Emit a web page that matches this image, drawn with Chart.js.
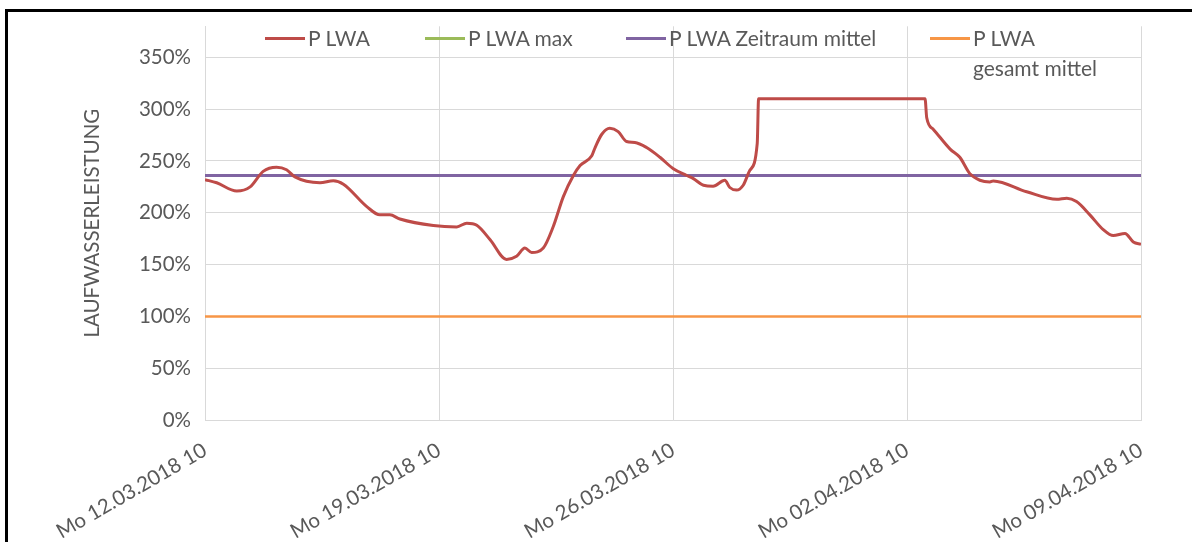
<!DOCTYPE html>
<html>
<head>
<meta charset="utf-8">
<script src="https://cdn.jsdelivr.net/npm/chart.js@4/dist/chart.umd.min.js"></script>
<style>
    html, body { margin: 0; padding: 0; background: #fff; }
    #wrap { position: relative; width: 1192px; height: 542px; overflow: hidden; }
    #frame { position: absolute; left: 5px; top: 9px; width: 1400px; height: 700px;
             border-left: 3px solid #000; border-top: 3px solid #000; }
    #chart { position: absolute; left: 0; top: 0; }
    .lg { position: absolute; font-family: Lato, sans-serif; font-size: 21px; color: #595959;
          white-space: pre-line; line-height: 30px; }
    .lg span { display: inline-block; width: 40px; height: 3px; vertical-align: middle;
               margin-right: 3px; position: relative; top: -2px; }
</style>
</head>
<body>
<div id="wrap">
    <div id="frame"></div>
    <canvas id="chart" width="1192" height="542"></canvas>
</div>
<script>
// Achse: Tage ab Mo 12.03.2018 10 Uhr
const tickLabels = ['Mo 12.03.2018 10', 'Mo 19.03.2018 10', 'Mo 26.03.2018 10', 'Mo 02.04.2018 10', 'Mo 09.04.2018 10'];
const tage = [0.00, 0.35, 0.95, 1.35, 1.74, 2.14, 2.44, 2.69, 3.44, 3.84, 4.14, 4.84, 5.23, 5.53, 5.83,
    6.83, 7.53, 7.83, 8.13, 8.53, 9.02, 9.32, 9.57, 9.77, 10.12, 10.41, 10.72, 11.02, 11.22, 11.57,
    11.67, 11.87, 12.11, 12.36, 12.61, 12.86, 13.21, 13.61, 14.01, 14.41, 14.61, 14.91, 15.20, 15.55,
    15.70, 15.90, 16.10, 16.30, 16.52, 16.56, 21.54, 21.59, 21.79, 22.29, 22.58, 22.88, 23.18, 23.48,
    23.58, 24.58, 25.48, 25.78, 26.07, 26.47, 26.87, 27.17, 27.52, 27.77, 28.00];
const pLwa = [232, 229, 221, 225, 240, 244, 241.5, 234.6, 229, 231, 227.6, 206, 198, 198, 194,
    187.7, 186.4, 190, 188, 174, 155, 158, 166, 161.7, 166, 186, 215.6, 236, 245.6, 255,
    263, 275.8, 281.5, 278.4, 268.8, 267.9, 263, 253.6, 242.5, 236, 233, 226.6, 225.7, 231.4,
    224.4, 221.9, 226.6, 241, 267, 310, 310, 291.7, 280.5, 261.5, 253.6, 237.8, 231.4, 229.8,
    230.8, 220.3, 213, 214, 210.8, 198, 183.8, 178, 180, 171.8, 169.6];
const pLwaMax = [];
const zeitraumMittel = 236;
const gesamtMittel = 100;

const labels = ['P LWA', 'P LWA max', 'P LWA Zeitraum mittel', 'P LWA\ngesamt mittel'];
const farben = ['#BE4B48', '#9BBB59', '#8064A2', '#F79646'];

Chart.defaults.font.family = 'Lato, sans-serif';
Chart.defaults.font.size = 20.5;
Chart.defaults.color = '#595959';

let ctx = document.getElementById('chart').getContext('2d');

let chart = new Chart(ctx, {
    type: 'line',

    data: {
        datasets: [{
            label: labels[0],
            borderColor: farben[0],
            borderWidth: 3,
            cubicInterpolationMode: 'monotone',
            data: tage.map((t, i) => ({x: t, y: pLwa[i]})),
        }, {
            label: labels[1],
            borderColor: farben[1],
            borderWidth: 3,
            data: pLwaMax,
        }, {
            label: labels[2],
            borderColor: farben[2],
            borderWidth: 3,
            data: [{x: 0, y: zeitraumMittel}, {x: 28, y: zeitraumMittel}],
        }, {
            label: labels[3],
            borderColor: farben[3],
            borderWidth: 2.5,
            data: [{x: 0, y: gesamtMittel}, {x: 28, y: gesamtMittel}],
        }]
    },

    options: {
        responsive: false,
        animation: false,
        events: [],
        layout: {padding: {left: 80, top: 20, right: 51, bottom: 0}},
        elements: {point: {radius: 0}, line: {borderJoinStyle: 'round'}},
        plugins: {legend: {display: false}, tooltip: {enabled: false}},
        scales: {
            x: {
                type: 'linear',
                bounds: 'data',
                min: 0,
                max: 28,
                grid: {color: '#d9d9d9', drawTicks: false},
                border: {color: '#d9d9d9'},
                ticks: {
                    stepSize: 7,
                    autoSkip: false,
                    minRotation: 30,
                    maxRotation: 30,
                    padding: 18,
                    callback: (v) => tickLabels[v / 7],
                },
                afterFit: (s) => { s.height = 122; }
            },
            y: {
                bounds: 'data',
                min: 0,
                max: 380,
                grid: {color: '#d9d9d9', drawTicks: false},
                border: {color: '#d9d9d9'},
                ticks: {
                    stepSize: 50,
                    padding: 14,
                    callback: (v) => v + '%',
                },
                afterBuildTicks: (s) => { s.ticks = s.ticks.filter(t => t.value <= 350); },
                title: {display: true, text: 'LAUFWASSERLEISTUNG', padding: {top: 0, bottom: 0}},
                afterFit: (s) => { s.width = 125; }
            }
        }
    }
});

// Legende wie im Excel-Diagramm
let lgLeft = [265, 425, 626, 930];
chart.data.datasets.forEach((ds, i) => {
    let d = document.createElement('div');
    d.className = 'lg';
    d.style.left = lgLeft[i] + 'px';
    d.style.top = '23px';
    d.innerHTML = '<span style="background:' + ds.borderColor + '"></span>' + ds.label.replace('\n', '<br><i style="display:inline-block;width:43px"></i>');
    document.getElementById('wrap').appendChild(d);
});
</script>
</body>
</html>
